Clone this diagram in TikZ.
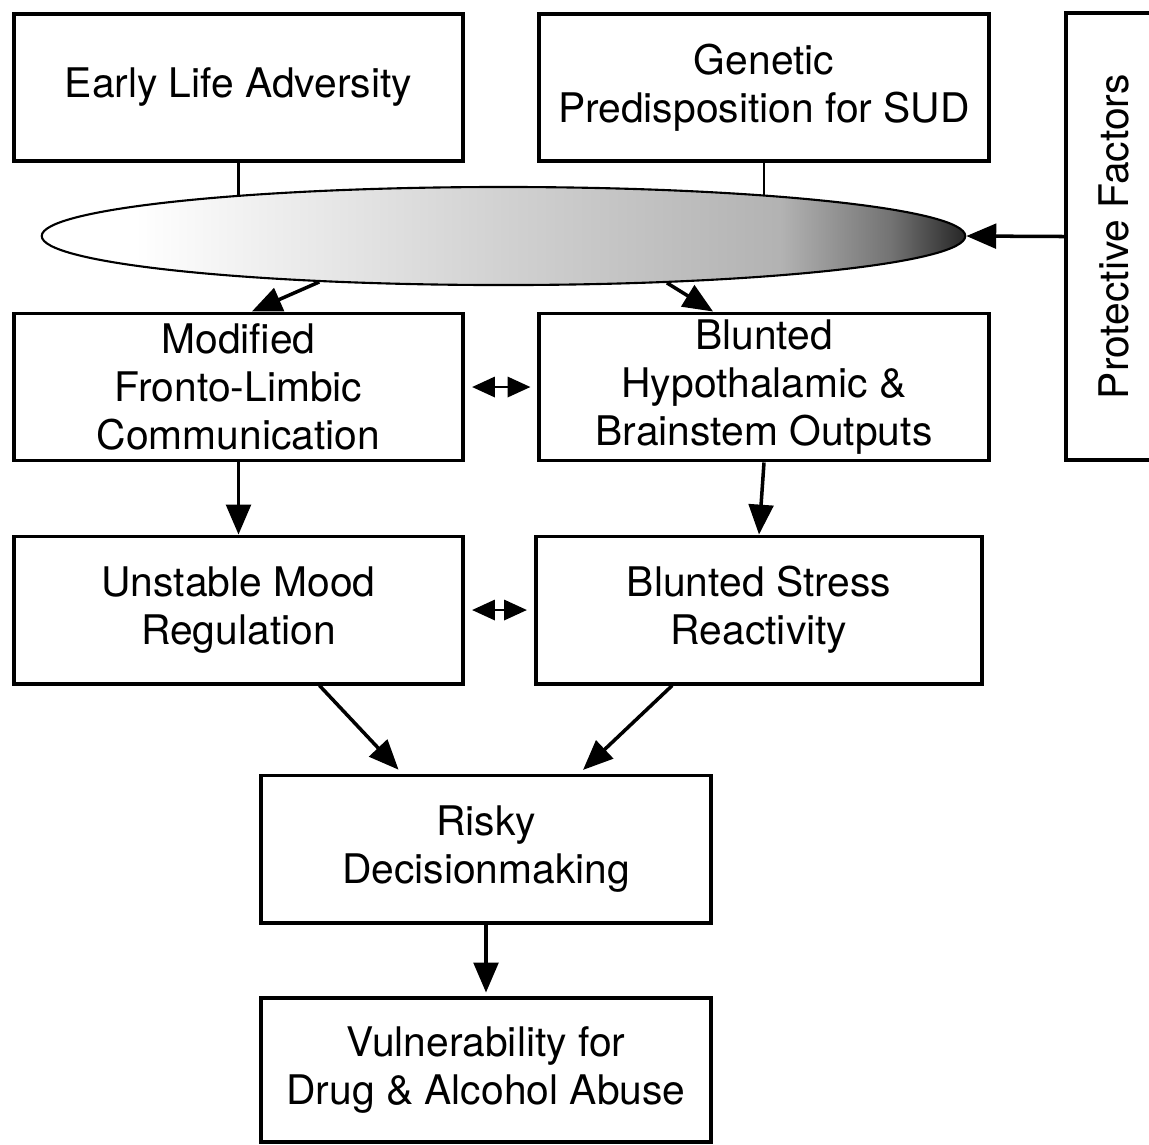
\documentclass[tikz,border=0pt]{standalone}
\usepackage{fontspec}
\setmainfont{TeX Gyre Heros}
\usetikzlibrary{arrows.meta,shapes.geometric,backgrounds}

\pgfdeclarehorizontalshading{lensshade}{100bp}{color(0bp)=(white); color(30bp)=(white); color(50bp)=(black!18); color(65bp)=(black!30); color(71bp)=(black!55); color(75bp)=(black!85); color(100bp)=(black!85)}

\begin{document}
\begin{tikzpicture}[x=0.01cm, y=-0.01cm,
  box/.style={draw, line width=1.1pt, minimum width=4.49cm, minimum height=1.47cm, inner sep=0pt, align=center, font=\fontsize{11.6}{13.6}\selectfont},
  arr/.style={line width=1pt, -{Triangle[length=8.5pt,width=7pt]}},
  link/.style={line width=0.6pt, {Triangle[length=6.5pt,width=5.8pt]}-{Triangle[length=6.5pt,width=5.8pt]}, shorten <=2pt, shorten >=2pt}]

\useasboundingbox (0,0) rectangle (1149,1144);

\node[box] (early) at (238.5,87.5) {Early Life Adversity};
\node[box] (genetic) at (764,87.5) {Genetic\\Predisposition for SUD};
\node[box, rotate=90, minimum width=4.47cm, minimum height=0.96cm] (protect) at (1114,236.5) {Protective Factors};

\node[ellipse, draw, line width=0.6pt, shade, shading=lensshade, inner sep=0pt, minimum width=9.23cm, minimum height=0.98cm] (lens) at (503.5,236) {};

\begin{scope}[on background layer]
\draw[line width=0.7pt] (early.south) -- (early.south |- lens.center);
\draw[line width=0.7pt] (genetic.south) -- (genetic.south |- lens.center);
\end{scope}

\draw[arr] (protect.north) -- (lens.east);

\node[box] (modified) at (238.5,387) {Modified\\Fronto-Limbic\\Communication};
\node[box] (blunted) at (764,387) {Blunted\\Hypothalamic \&\\Brainstem Outputs};

\draw[arr] (lens.194) -- (modified.80);
\draw[arr] (lens.344) -- (blunted.124);
\draw[link] (modified.east) -- (blunted.west);

\node[box] (mood) at (238.5,610) {Unstable Mood\\Regulation};
\node[box, minimum width=4.46cm] (stress) at (759,610) {Blunted Stress\\Reactivity};

\draw[arr] (modified.south) -- (mood.north);
\draw[arr] (blunted.south) -- (stress.north);
\draw[link] (mood.east) -- (stress.west);

\node[box] (risky) at (486,849) {Risky\\Decisionmaking};
\node[box, minimum height=1.44cm] (vuln) at (486,1070) {Vulnerability for\\Drug \& Alcohol Abuse};

\draw[arr, shorten >=1.5pt] (mood.-43) -- (risky.138);
\draw[arr, shorten >=1.5pt] (stress.221) -- (risky.39);
\draw[arr, shorten >=1pt] (risky.south) -- (vuln.north);

\end{tikzpicture}
\end{document}
